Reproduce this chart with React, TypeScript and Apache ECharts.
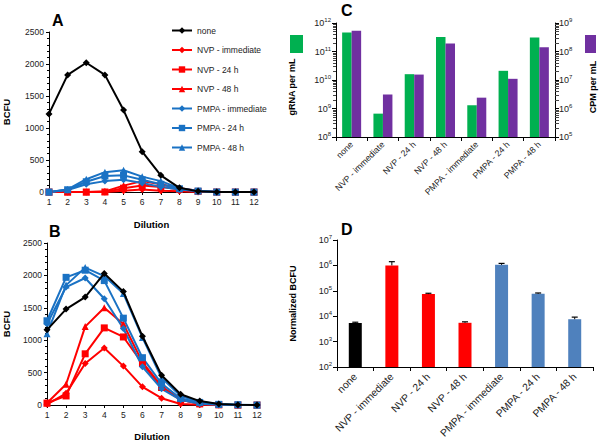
import React, { useEffect, useRef } from "react";
import * as echarts from "echarts";

const dilutions = ["1", "2", "3", "4", "5", "6", "7", "8", "9", "10", "11", "12"];
const seriesNames = ["none", "NVP - immediate", "NVP - 24 h", "NVP - 48 h", "PMPA - immediate", "PMPA - 24 h", "PMPA - 48 h"];

// Panel A (BCFU per dilution)
const aNone = [1220, 1830, 2020, 1830, 1280, 630, 260, 65, 10, 0, 0, 0];
const aNvpImm = [0, 0, 0, 0, 20, 40, 20, 10, 0, 0, 0, 0];
const aNvp24 = [0, 0, 0, 0, 60, 100, 80, 40, 10, 0, 0, 0];
const aNvp48 = [0, 0, 0, 10, 100, 170, 120, 60, 20, 5, 0, 0];
const aPmpaImm = [0, 30, 120, 170, 190, 140, 80, 40, 10, 0, 0, 0];
const aPmpa24 = [0, 35, 160, 250, 260, 190, 120, 50, 15, 0, 0, 0];
const aPmpa48 = [0, 40, 200, 310, 340, 240, 170, 60, 20, 5, 0, 0];

// Panel B
const bNone = [1160, 1480, 1665, 2030, 1750, 1060, 460, 165, 60, 15, 5, 0];
const bNvpImm = [10, 180, 640, 880, 600, 280, 105, 15, 5, 0, 0, 0];
const bNvp24 = [30, 140, 790, 1190, 1050, 640, 270, 80, 20, 5, 0, 0];
const bNvp48 = [30, 320, 1210, 1500, 1250, 660, 290, 80, 20, 5, 0, 0];
const bPmpaImm = [1250, 1820, 1960, 1640, 1180, 590, 250, 80, 20, 5, 0, 0];
const bPmpa24 = [1300, 1970, 2080, 1920, 1340, 730, 330, 100, 40, 10, 5, 0];
const bPmpa48 = [1100, 1850, 2120, 1990, 1720, 1040, 420, 140, 50, 15, 5, 0];

// Panel C
const treatments = ["none", "NVP - immediate", "NVP - 24 h", "NVP - 48 h", "PMPA - immediate", "PMPA - 24 h", "PMPA - 48 h"];
const cGrna = [4.6e11, 6.6e8, 1.6e10, 3.2e11, 1.3e9, 2.1e10, 3.1e11];
const cCpm = [5.4e8, 3.1e6, 1.55e7, 1.9e8, 2.4e6, 1.1e7, 1.4e8];

// Panel D
const dValues = [5.4e3, 1.0e6, 7.4e4, 5.5e3, 1.05e6, 7.6e4, 7.6e3];
const dUpper = [5.8e3, 1.4e6, 8.0e4, 6.0e3, 1.2e6, 8.2e4, 9.2e3];
const dColors = ["#000000", "#ff0000", "#ff0000", "#ff0000", "#4f81bd", "#4f81bd", "#4f81bd"];

const FONT = "'Liberation Sans', Arial, sans-serif";
const BLUE = "#1a72c4";
const RED = "#ff0000";

const lineStyleDefs = [
  { color: "#000000", symbol: "diamond" },
  { color: RED, symbol: "diamond" },
  { color: RED, symbol: "rect" },
  { color: RED, symbol: "triangle" },
  { color: BLUE, symbol: "diamond" },
  { color: BLUE, symbol: "rect" },
  { color: BLUE, symbol: "triangle" },
];

const supFormatter = (v: number) => "10{s|" + Math.round(Math.log10(v)) + "}";
const supRich = {
  s: { fontSize: 6, padding: [0, 0, 6, 0], fontFamily: FONT, color: "#222" },
};

function lineSeries(dataSets: number[][], axisIndex: number) {
  return dataSets.map((d, i) => ({
    type: "line",
    name: seriesNames[i],
    xAxisIndex: axisIndex,
    yAxisIndex: axisIndex,
    data: d,
    symbol: lineStyleDefs[i].symbol,
    symbolSize: 7,
    itemStyle: { color: lineStyleDefs[i].color },
    lineStyle: { color: lineStyleDefs[i].color, width: 2 },
    z: i === 0 ? 3 : 2,
  }));
}

const valueAxisBase = {
  axisLine: { show: true, lineStyle: { color: "#000", width: 1 } },
  axisTick: { show: true, length: 3, lineStyle: { color: "#000" } },
  axisLabel: { fontSize: 8.5, color: "#222", fontFamily: FONT, margin: 5, formatter: (v: any) => String(v) },
  splitLine: { show: false },
  nameTextStyle: { fontSize: 9.5, fontWeight: "bold", color: "#000", fontFamily: FONT },
};

export default function App() {
  const ref = useRef<HTMLDivElement>(null);
  useEffect(() => {
    if (!ref.current) return;
    const chart = echarts.init(ref.current, undefined, { renderer: "svg" });
    const catLabelC = { fontSize: 8.7, color: "#222", fontFamily: FONT, rotate: 45, interval: 0, margin: 6 };
    const catLabelD = { fontSize: 10.3, color: "#222", fontFamily: FONT, rotate: 45, interval: 0, margin: 8 };
    const option: any = {
      animation: false,
      backgroundColor: "#ffffff",
      textStyle: { fontFamily: FONT },
      grid: [
        { left: 49, top: 32, width: 205, height: 160 },
        { left: 47, top: 243, width: 210, height: 162 },
        { left: 336, top: 23, width: 219, height: 114 },
        { left: 337, top: 240, width: 256, height: 127 },
      ],
      legend: {
        orient: "vertical",
        left: 166,
        top: 21,
        itemWidth: 20,
        itemHeight: 8,
        itemGap: 10.5,
        data: seriesNames,
        textStyle: { fontSize: 8.5, color: "#222", fontFamily: FONT },
      },
      xAxis: [
        {
          ...valueAxisBase,
          type: "category",
          gridIndex: 0,
          data: dilutions,
          boundaryGap: false,
          name: "Dilution",
          nameLocation: "middle",
          nameGap: 27,
        },
        {
          ...valueAxisBase,
          type: "category",
          gridIndex: 1,
          data: dilutions,
          boundaryGap: false,
          name: "Dilution",
          nameLocation: "middle",
          nameGap: 26,
        },
        {
          ...valueAxisBase,
          type: "category",
          gridIndex: 2,
          data: treatments,
          axisTick: { show: true, length: 4, lineStyle: { color: "#000" } },
          axisLabel: catLabelC,
        },
        {
          ...valueAxisBase,
          type: "category",
          gridIndex: 3,
          data: treatments,
          axisTick: { show: true, length: 4, lineStyle: { color: "#000" } },
          axisLabel: catLabelD,
        },
      ],
      yAxis: [
        {
          ...valueAxisBase,
          type: "value",
          gridIndex: 0,
          min: 0,
          max: 2500,
          interval: 500,
          name: "BCFU",
          nameLocation: "middle",
          nameGap: 38,
          minorTick: { show: true, splitNumber: 5, length: 2, lineStyle: { color: "#000" } },
        },
        {
          ...valueAxisBase,
          type: "value",
          gridIndex: 1,
          min: 0,
          max: 2500,
          interval: 500,
          name: "BCFU",
          nameLocation: "middle",
          nameGap: 36,
          minorTick: { show: true, splitNumber: 5, length: 2, lineStyle: { color: "#000" } },
        },
        {
          ...valueAxisBase,
          type: "log",
          gridIndex: 2,
          logBase: 10,
          min: 1e8,
          max: 1e12,
          name: "gRNA per mL",
          nameLocation: "middle",
          nameGap: 40,
          nameTextStyle: { fontSize: 9, fontWeight: "bold", color: "#000", fontFamily: FONT, padding: [0, 0, 0, -14] },
          axisTick: { show: true, length: 4, lineStyle: { color: "#000" } },
          minorTick: { show: true, splitNumber: 9, length: 3, lineStyle: { color: "#444" } },
          axisLabel: { fontSize: 9, color: "#222", fontFamily: FONT, formatter: supFormatter, rich: supRich, margin: 5 },
        },
        {
          ...valueAxisBase,
          type: "log",
          gridIndex: 2,
          position: "right",
          logBase: 10,
          min: 1e5,
          max: 1e9,
          name: "CPM per mL",
          nameLocation: "middle",
          nameGap: 33,
          nameRotate: 90,
          nameTextStyle: { fontSize: 9, fontWeight: "bold", color: "#000", fontFamily: FONT, padding: [0, 0, 0, -14] },
          axisTick: { show: true, length: 4, lineStyle: { color: "#000" } },
          minorTick: { show: true, splitNumber: 9, length: 4, lineStyle: { color: "#444" } },
          axisLabel: { fontSize: 9, color: "#222", fontFamily: FONT, formatter: supFormatter, rich: supRich, margin: 4 },
        },
        {
          ...valueAxisBase,
          type: "log",
          gridIndex: 3,
          logBase: 10,
          min: 1e2,
          max: 1e7,
          name: "Normalized BCFU",
          nameLocation: "middle",
          nameGap: 40,
          nameTextStyle: { fontSize: 9, fontWeight: "bold", color: "#000", fontFamily: FONT },
          axisTick: { show: true, length: 4, lineStyle: { color: "#000" } },
          axisLabel: { fontSize: 9, color: "#222", fontFamily: FONT, formatter: supFormatter, rich: supRich, margin: 5 },
        },
      ],
      series: [
        ...lineSeries([aNone, aNvpImm, aNvp24, aNvp48, aPmpaImm, aPmpa24, aPmpa48], 0),
        ...lineSeries([bNone, bNvpImm, bNvp24, bNvp48, bPmpaImm, bPmpa24, bPmpa48], 1),
        {
          type: "bar",
          name: "gRNA per mL",
          xAxisIndex: 2,
          yAxisIndex: 2,
          data: cGrna,
          barWidth: 9.5,
          barGap: "0%",
          itemStyle: { color: "#00b050" },
        },
        {
          type: "bar",
          name: "CPM per mL",
          xAxisIndex: 2,
          yAxisIndex: 3,
          data: cCpm,
          barWidth: 9.5,
          barGap: "0%",
          itemStyle: { color: "#7030a0" },
        },
        {
          type: "bar",
          name: "Normalized BCFU",
          xAxisIndex: 3,
          yAxisIndex: 4,
          barWidth: 13,
          data: dValues.map((v, i) => ({ value: v, itemStyle: { color: dColors[i] } })),
        },
        {
          type: "custom",
          name: "error",
          xAxisIndex: 3,
          yAxisIndex: 4,
          z: 10,
          data: dValues.map((v, i) => [i, v, dUpper[i]]),
          renderItem: (params: any, api: any) => {
            const base = api.coord([api.value(0), api.value(1)]);
            const top = api.coord([api.value(0), api.value(2)]);
            return {
              type: "group",
              children: [
                { type: "line", shape: { x1: base[0], y1: base[1], x2: top[0], y2: top[1] }, style: { stroke: "#000", lineWidth: 1 } },
                { type: "line", shape: { x1: top[0] - 3, y1: top[1], x2: top[0] + 3, y2: top[1] }, style: { stroke: "#000", lineWidth: 1.2 } },
              ],
            };
          },
        },
      ],
      graphic: [
        { type: "text", left: 52, top: 12, style: { text: "A", fontSize: 16, fontWeight: "bold", fill: "#000", fontFamily: FONT } },
        { type: "text", left: 49, top: 223, style: { text: "B", fontSize: 16, fontWeight: "bold", fill: "#000", fontFamily: FONT } },
        { type: "text", left: 341, top: 2, style: { text: "C", fontSize: 16, fontWeight: "bold", fill: "#000", fontFamily: FONT } },
        { type: "text", left: 341, top: 221, style: { text: "D", fontSize: 16, fontWeight: "bold", fill: "#000", fontFamily: FONT } },
        { type: "rect", shape: { x: 290, y: 35, width: 13, height: 18 }, style: { fill: "#00b050" } },
        { type: "rect", shape: { x: 585, y: 35, width: 11, height: 18 }, style: { fill: "#7030a0" } },
      ],
    };
    chart.setOption(option);
    return () => chart.dispose();
  }, []);
  return <div ref={ref} style={{ position: "absolute", left: 0, top: 0, width: 600, height: 444 }} />;
}
